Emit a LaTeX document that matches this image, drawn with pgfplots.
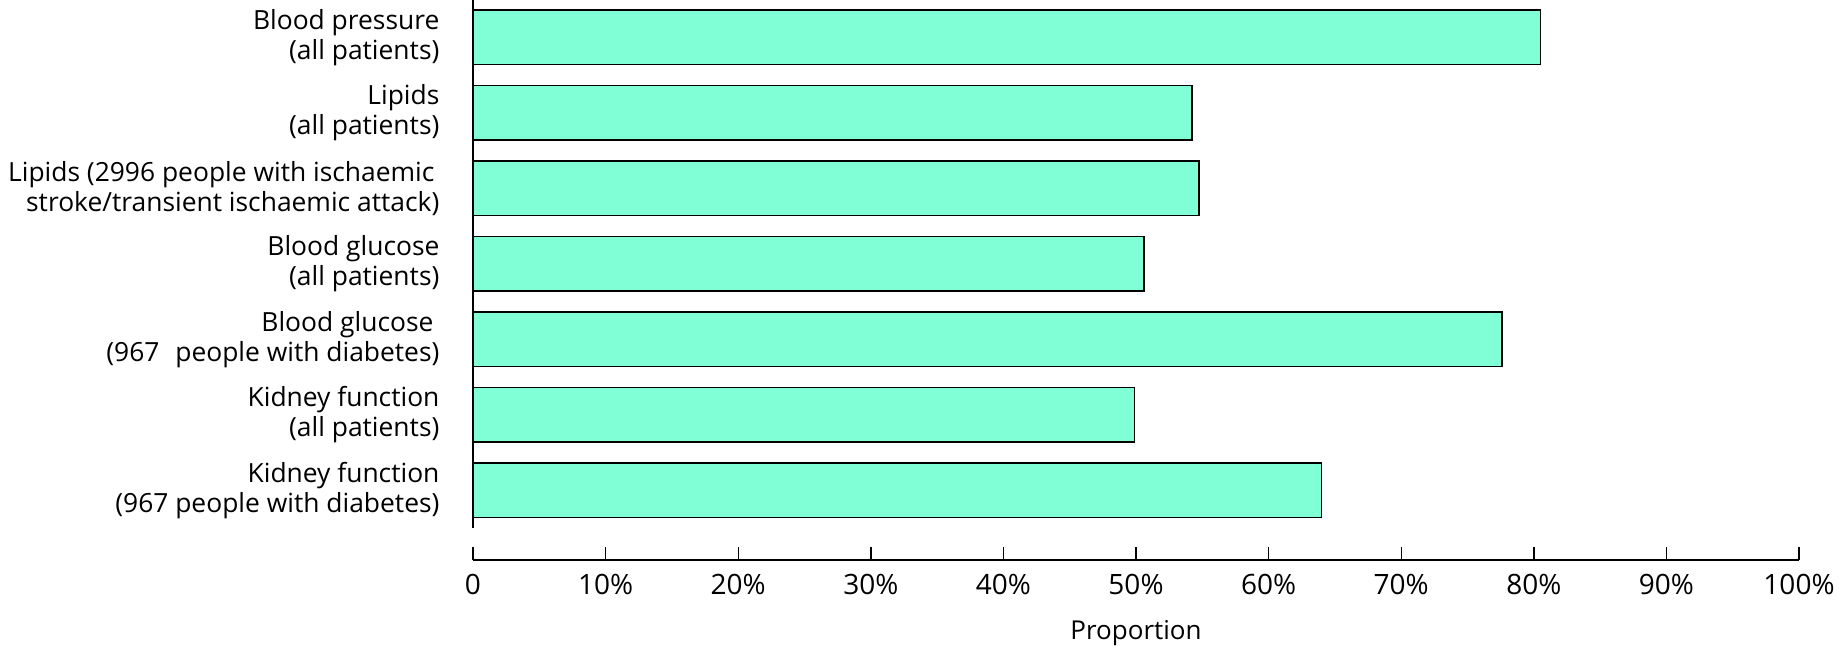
\documentclass[border=0pt]{standalone}
\usepackage{fontspec}
\setmainfont{Open Sans}
\usepackage{pgfplots}
\pgfplotsset{compat=1.18}
\definecolor{barfill}{RGB}{128,255,214}
\begin{document}
\fontsize{13pt}{15pt}\selectfont
\begin{tikzpicture}
\useasboundingbox (0,0) rectangle (919.5pt,323pt);
\begin{axis}[
  at={(236.5pt,43pt)}, anchor=south west,
  scale only axis,
  width=663pt, height=280.3pt,
  xbar, bar width=27.2pt, bar shift=0pt,
  xmin=0, xmax=100,
  ymin=-0.925, ymax=6.5,
  axis x line=bottom, axis y line=left,
  axis line style={-, line width=0.7pt, black},
  y axis line style={shorten <=16.2pt},
  xtick={0,10,...,100},
  xticklabels={0,10\%,20\%,30\%,40\%,50\%,60\%,70\%,80\%,90\%,100\%},
  xtick align=inside,
  major tick length=6.5pt,
  x tick style={line width=0.7pt, black},
  ytick={0,1,2,3,4,5,6},
  yticklabels={
    {Kidney function\\(967 people with diabetes)},
    {Kidney function\\(all patients)},
    {Blood glucose\kern3pt\\(967\hspace{0.6em}people with diabetes)},
    {Blood glucose\\(all patients)},
    {Lipids (2996 people with ischaemic\kern2.5pt\\stroke/transient ischaemic attack)},
    {Lipids\\(all patients)},
    {Blood pressure\\(all patients)}},
  y tick style={draw=none},
  yticklabel style={align=right, xshift=-9pt, font=\fontsize{13.2pt}{15pt}\selectfont},
  xticklabel style={yshift=-2.5pt, font=\fontsize{14pt}{15pt}\selectfont},
  xlabel={Proportion},
  xlabel style={at={(axis description cs:0.5,0)}, anchor=center, yshift=-36.5pt, font=\fontsize{13pt}{15pt}\selectfont},
  clip=false,
]
\addplot[fill=barfill, draw=black, line width=0.8pt] coordinates {
  (64.0,0) (49.9,1) (77.6,2) (50.6,3) (54.75,4) (54.2,5) (80.5,6)
};
\end{axis}
\end{tikzpicture}
\end{document}
